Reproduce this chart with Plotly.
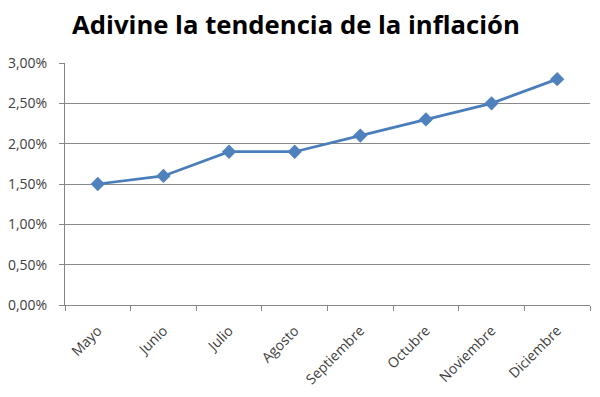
import plotly.graph_objects as go

meses = ["Mayo", "Junio", "Julio", "Agosto", "Septiembre", "Octubre", "Noviembre", "Diciembre"]
inflacion = [0.015, 0.016, 0.019, 0.019, 0.021, 0.023, 0.025, 0.028]
y_ticks = [0, 0.005, 0.01, 0.015, 0.02, 0.025, 0.03]

fig = go.Figure()
fig.add_trace(go.Scatter(
    x=meses, y=inflacion, mode="lines+markers",
    line=dict(color="#4A7EBB", width=2.75),
    marker=dict(symbol="diamond", size=11, color="#4F81BD"),
    showlegend=False,
))

fig.update_layout(
    width=600, height=397,
    margin=dict(l=57, r=18, t=55, b=100),
    paper_bgcolor="white", plot_bgcolor="white",
    separators=",.",
    title=dict(text="<b>Adivine la tendencia de la inflación</b>",
               x=0.48, xanchor="center", y=0.958, yanchor="middle",
               font=dict(family="Open Sans", size=25.7, color="black")),
    font=dict(family="Open Sans", size=14, color="#404040"),
)
fig.update_xaxes(
    type="category", range=[-0.5, 7.5], tickangle=-45, tickson="boundaries",
    showgrid=False, showline=True, linecolor="#868686", linewidth=1,
    ticks="outside", ticklen=5, tickcolor="#868686",
    ticklabelstandoff=11, automargin=False,
    tickfont=dict(size=14, color="#404040"),
)
fig.update_yaxes(
    range=[0, 0.03], tickvals=y_ticks, tickformat=".2%",
    showgrid=True, gridcolor="#8A8A8A", gridwidth=1,
    showline=True, linecolor="#868686", linewidth=1,
    ticks="outside", ticklen=5, tickcolor="#868686",
    ticklabelstandoff=9, automargin=False,
    zeroline=False, tickfont=dict(size=14, color="#404040"),
)

fig.write_html("out.html")
